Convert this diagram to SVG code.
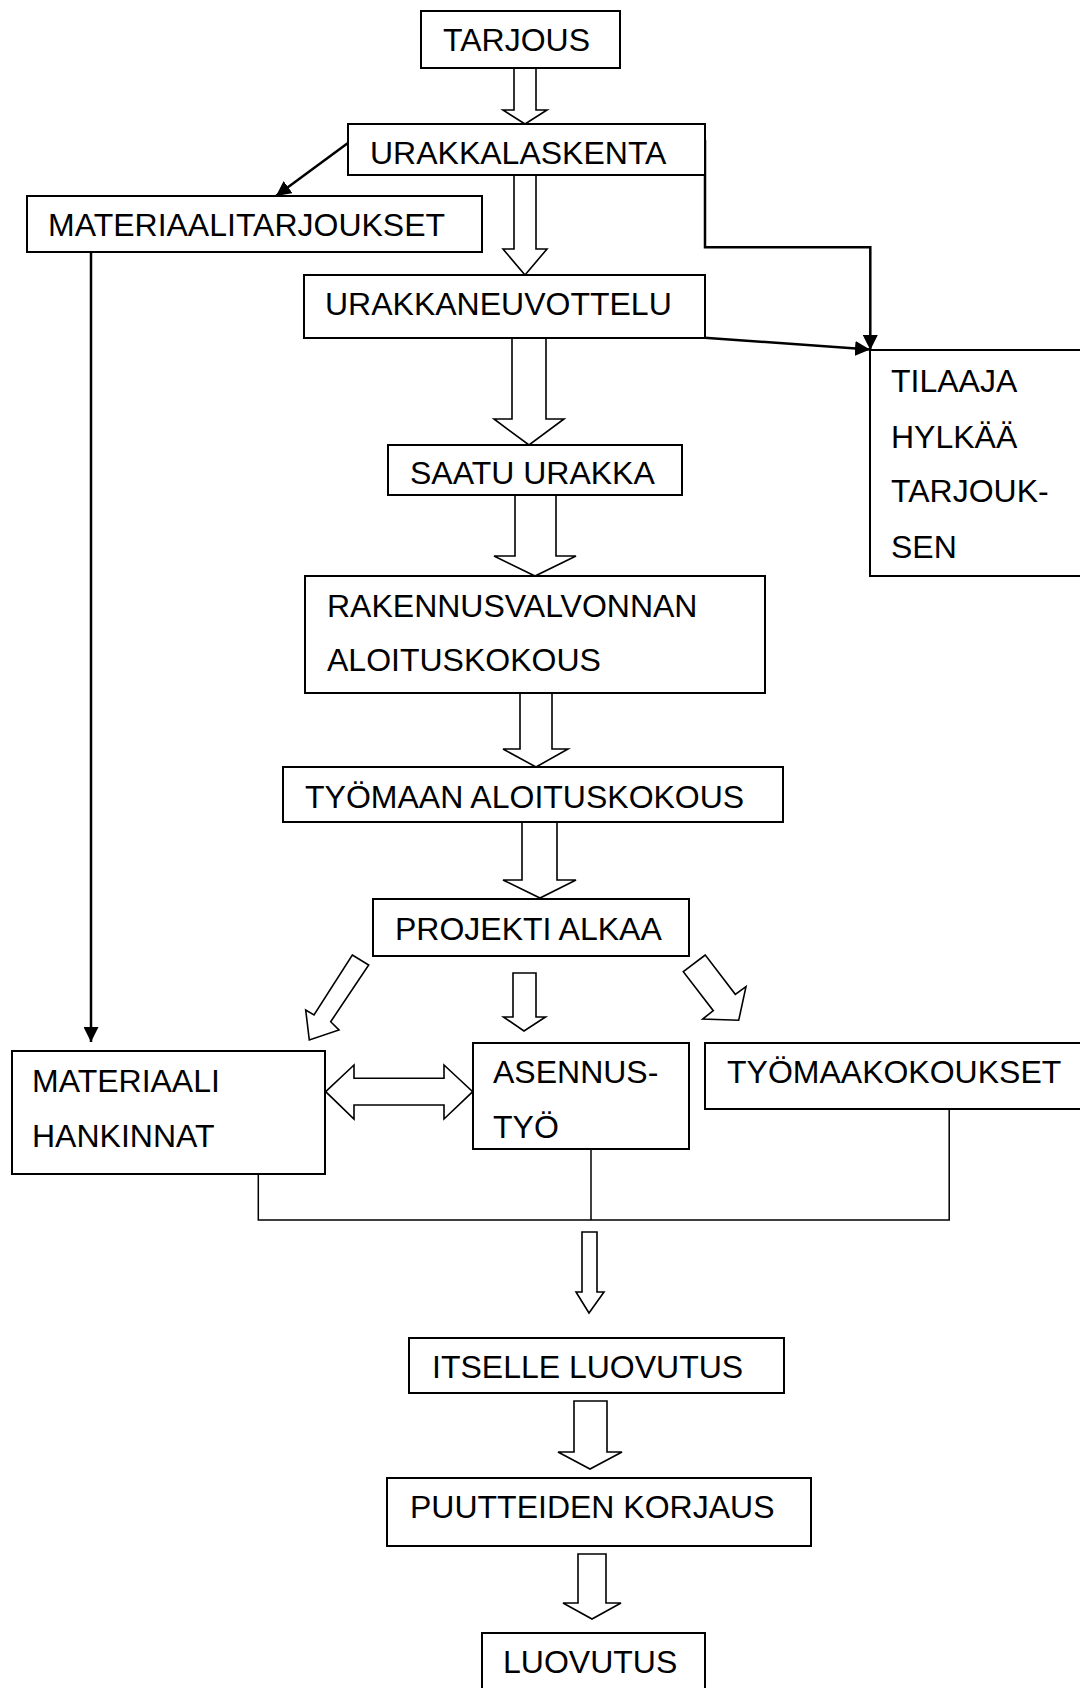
<svg xmlns="http://www.w3.org/2000/svg" width="1080" height="1688" viewBox="0 0 1080 1688">
<style>
.box{fill:#fff;stroke:#000;stroke-width:2}
.t{font-family:"Liberation Sans",Arial,sans-serif;font-size:32px;fill:#000}
.ha{fill:#fff;stroke:#000;stroke-width:1.6;stroke-linejoin:miter}
.ln{fill:none;stroke:#000;stroke-width:2.5}
.thin{fill:none;stroke:#000;stroke-width:1.5}
</style>
<defs>
<marker id="ah" viewBox="0 0 10 10" refX="10" refY="5" markerWidth="6" markerHeight="6" orient="auto" markerUnits="strokeWidth">
<path d="M0,0 L10,5 L0,10 z" fill="#000"/>
</marker>
</defs>
<rect width="1080" height="1688" fill="#fff"/>
<g id="connectors">
<polygon class="ha" points="514,68 536,68 536,110 547,110 525,124 503,110 514,110"/>
<polygon class="ha" points="514,175 536,175 536,249 547,249 525,275 503,249 514,249"/>
<polygon class="ha" points="512,338 546,338 546,419 564,419 529,445 494,419 512,419"/>
<polygon class="ha" points="515,495 556,495 556,556 576,556 535,576 494,556 515,556"/>
<polygon class="ha" points="520,693 552,693 552,749 568,749 536,767 503,749 520,749"/>
<polygon class="ha" points="522,822 557,822 557,880 576,880 540,898 503,880 522,880"/>
<polygon class="ha" points="352.3,955 368.7,965 330.7,1021.7 339,1030 309.3,1040 305.7,1010 314,1015"/>
<polygon class="ha" points="513,973 536,973 536,1017 545.5,1017 524,1031 503.5,1017 513,1017"/>
<polygon class="ha" points="705.3,955 683.3,971.7 713.3,1010.7 702.7,1019 738.7,1020.3 746,986.7 735.3,994.3"/>
<polygon class="ha" points="325.7,1091.7 354,1065 354,1078.3 444,1078.3 444,1065 472.7,1091.7 444,1119 444,1105 354,1105 354,1119"/>
<polygon class="ha" points="582,1232 597,1232 597,1292 604,1292 589,1313 576,1292 582,1292"/>
<polygon class="ha" points="574,1401 607,1401 607,1452 622,1452 590,1469 558,1452 574,1452"/>
<polygon class="ha" points="578,1554 606,1554 606,1603 621,1603 592,1619 563,1603 578,1603"/>
<line class="ln" x1="348.3" y1="142.7" x2="276" y2="196" marker-end="url(#ah)"/>
<line class="ln" x1="91" y1="252" x2="91" y2="1042" marker-end="url(#ah)"/>
<polyline class="ln" points="705,140 705,247.3 870.3,247.3 870.3,350" marker-end="url(#ah)"/>
<line class="ln" x1="704.5" y1="337.7" x2="870" y2="349.5" marker-end="url(#ah)"/>
<polyline class="thin" points="258.3,1174 258.3,1220 949.2,1220 949.2,1109"/>
<line class="thin" x1="591" y1="1149" x2="591" y2="1220"/>
</g>
<g id="n-tarjous"><rect class="box" x="421" y="11" width="199" height="57"/><text class="t" x="443" y="51">TARJOUS</text></g>
<g id="n-urakkalaskenta"><rect class="box" x="348" y="124" width="357" height="51"/><text class="t" x="370" y="164">URAKKALASKENTA</text></g>
<g id="n-materiaalitarjoukset"><rect class="box" x="27" y="196" width="455" height="56"/><text class="t" x="48" y="236">MATERIAALITARJOUKSET</text></g>
<g id="n-urakkaneuvottelu"><rect class="box" x="304" y="275" width="401" height="63"/><text class="t" x="325" y="315">URAKKANEUVOTTELU</text></g>
<g id="n-tilaaja"><rect class="box" x="870" y="350" width="240" height="226"/><text class="t" x="891" y="392">TILAAJA</text><text class="t" x="891" y="448">HYLKÄÄ</text><text class="t" x="891" y="502">TARJOUK-</text><text class="t" x="891" y="558">SEN</text></g>
<g id="n-saatu"><rect class="box" x="388" y="445" width="294" height="50"/><text class="t" x="410" y="484">SAATU URAKKA</text></g>
<g id="n-rakennusvalvonnan"><rect class="box" x="305" y="576" width="460" height="117"/><text class="t" x="327" y="617">RAKENNUSVALVONNAN</text><text class="t" x="327" y="671">ALOITUSKOKOUS</text></g>
<g id="n-tyomaan"><rect class="box" x="283" y="767" width="500" height="55"/><text class="t" x="305" y="808">TYÖMAAN ALOITUSKOKOUS</text></g>
<g id="n-projekti"><rect class="box" x="373" y="899" width="316" height="57"/><text class="t" x="395" y="940">PROJEKTI ALKAA</text></g>
<g id="n-materiaali"><rect class="box" x="12" y="1051" width="313" height="123"/><text class="t" x="32" y="1092">MATERIAALI</text><text class="t" x="32" y="1147">HANKINNAT</text></g>
<g id="n-asennus"><rect class="box" x="473" y="1043" width="216" height="106"/><text class="t" x="493" y="1083">ASENNUS-</text><text class="t" x="493" y="1138">TYÖ</text></g>
<g id="n-tyomaakokoukset"><rect class="box" x="705" y="1043" width="400" height="66"/><text class="t" x="727" y="1083">TYÖMAAKOKOUKSET</text></g>
<g id="n-itselle"><rect class="box" x="409" y="1338" width="375" height="55"/><text class="t" x="432" y="1378">ITSELLE LUOVUTUS</text></g>
<g id="n-puutteiden"><rect class="box" x="387" y="1478" width="424" height="68"/><text class="t" x="410" y="1518">PUUTTEIDEN KORJAUS</text></g>
<g id="n-luovutus"><rect class="box" x="482" y="1633" width="223" height="80"/><text class="t" x="503" y="1673">LUOVUTUS</text></g>
</svg>
